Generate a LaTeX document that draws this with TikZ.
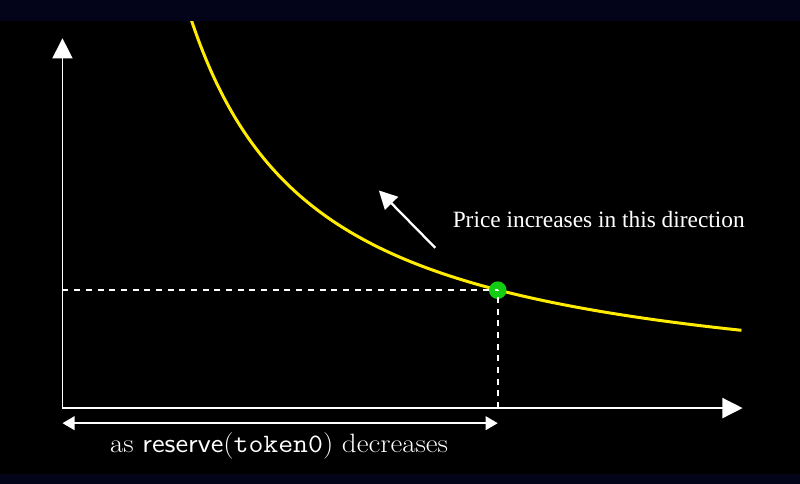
\documentclass[tikz,border=0pt]{standalone}
\usepackage{graphicx}
\usepackage{fontspec}
\newfontfamily\pricefont{Liberation Serif}
\usetikzlibrary{arrows.meta}
\definecolor{band}{RGB}{3,3,26}
\definecolor{curvey}{RGB}{255,236,0}
\definecolor{dotgreen}{RGB}{18,205,18}
\begin{document}
\begin{tikzpicture}[x=0.02cm,y=-0.02cm,
  axisline/.style={white, line width=0.8pt, -{Triangle[length=0.4cm,width=0.4cm]}},
  guide/.style={white, line width=1.1pt, dash pattern=on 3.4pt off 3.2pt},
  spanarrow/.style={white, line width=1.1pt, {Triangle[length=0.24cm,width=0.27cm]}-{Triangle[length=0.24cm,width=0.27cm]}},
  pricearrow/.style={white, line width=1.3pt, -{Triangle[length=0.36cm,width=0.36cm]}},
  curveline/.style={curvey, line width=1.7pt},
  lbl/.style={text=white, inner sep=0pt}]
\fill[black] (0,0) rectangle (794,480);
\useasboundingbox (0,0) rectangle (794,480);
% coordinates
\coordinate (O) at (62,405);
\coordinate (Ytip) at (62,38);
\coordinate (Xtip) at (737,405);
\coordinate (P) at (494,288);
\coordinate (Py) at (62,288);
\coordinate (Px) at (494,405);
\coordinate (L) at (62,420);
\coordinate (R) at (494,420);
\coordinate (Atail) at (432,246);
\coordinate (Ahead) at (376,189);
% curve
\draw[curveline] plot[domain=1.23:6.726, samples=120, smooth] ({63.4+100*\x}, {399.2-480/\x});
% axes
\draw[axisline] (O) -- (Ytip);
\draw[axisline] (O) -- (Xtip);
% point
\node[circle, fill=dotgreen, minimum size=0.35cm, inner sep=0pt] (dot) at (P) {};
% guides
\draw[guide] (Py) -- (P);
\draw[guide] (Px) -- (P);
% span arrow
\draw[spanarrow] (L) -- (R);
% price arrow
\draw[pricearrow] (Atail) -- (Ahead);
\node[lbl, font=\pricefont\fontsize{13.2}{16}\selectfont, anchor=west] (price) at (449,218) {Price increases in this direction};
\node[lbl, font=\fontsize{15}{18}\selectfont, anchor=base] (span) at (277,449) {\scalebox{1.09}[1]{as \textsf{reserve}(\texttt{token0}) decreases}};
% bands
\fill[band] (0,0) rectangle (794,21);
\fill[band] (0,470) rectangle (794,480);
\end{tikzpicture}
\end{document}
